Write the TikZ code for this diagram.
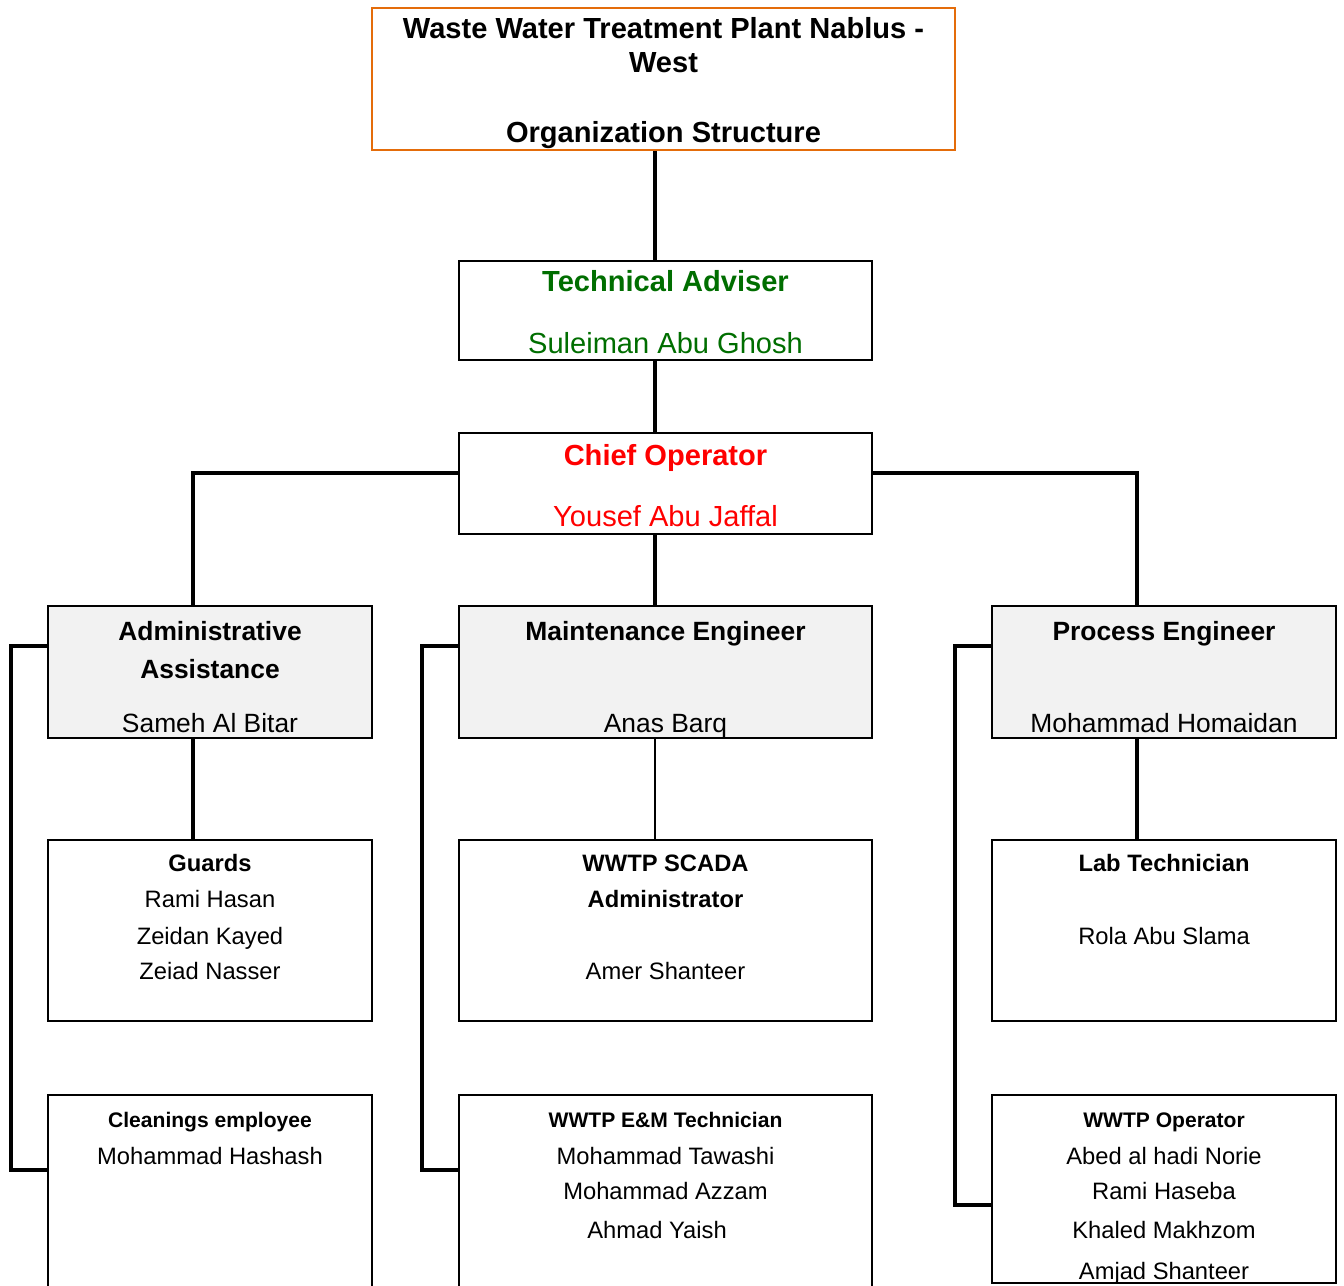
\documentclass[tikz,border=0pt]{standalone}
\usepackage{fontspec}
\setmainfont{Liberation Sans}
\usetikzlibrary{fit}
\definecolor{titleorange}{RGB}{228,108,10}
\definecolor{advgreen}{RGB}{0,110,0}
\definecolor{chiefred}{RGB}{255,0,0}
\definecolor{headgray}{RGB}{242,242,242}
\tikzset{
  box/.style={draw=black, line width=1.7pt, inner sep=0pt, fill=white},
  headbox/.style={box, fill=headgray},
  lnk/.style={draw=black, line width=2.6pt},
  hA/.style={anchor=base, font=\fontsize{21.8}{26}\selectfont\bfseries},
  nA/.style={anchor=base, font=\fontsize{21.8}{26}\selectfont},
  hB/.style={anchor=base, font=\fontsize{19.8}{24}\selectfont\bfseries},
  nB/.style={anchor=base, font=\fontsize{19.8}{24}\selectfont},
  hC/.style={anchor=base, font=\fontsize{17.8}{21}\selectfont\bfseries},
  nC/.style={anchor=base, font=\fontsize{17.8}{21}\selectfont},
  hD/.style={anchor=base, font=\fontsize{15.8}{19}\selectfont\bfseries}
}
\begin{document}
\begin{tikzpicture}[x=0.75pt,y=-0.75pt]
\clip (0,0) rectangle (1344,1285);
\fill[white] (0,0) rectangle (1344,1285);
\coordinate (spine) at (655,0);
\coordinate (lbr) at (193,473);
\coordinate (rbr) at (1137,473);
\coordinate (la) at (11,646);
\coordinate (lb) at (11,1170);
\coordinate (ma) at (422,646);
\coordinate (mb) at (422,1170);
\coordinate (pa) at (955,646);
\coordinate (pb) at (955,1205);
\node [box, draw=titleorange, fit={(372,8) (955,150)}] (title) {};
\node [box, fit={(459,261) (872,360)}] (ta) {};
\node [box, fit={(459,433) (872,534)}] (co) {};
\node [headbox, fit={(48,606) (372,738)}] (adm) {};
\node [headbox, fit={(459,606) (872,738)}] (mnt) {};
\node [headbox, fit={(992,606) (1336,738)}] (pro) {};
\node [box, fit={(48,840) (372,1021)}] (grd) {};
\node [box, fit={(459,840) (872,1021)}] (scd) {};
\node [box, fit={(992,840) (1336,1021)}] (lab) {};
\node [box, fit={(48,1095) (372,1300)}] (cln) {};
\node [box, fit={(459,1095) (872,1300)}] (emt) {};
\node [box, fit={(992,1095) (1336,1283)}] (opr) {};
\draw[lnk] (title.south -| spine) -- (ta.north -| spine);
\draw[lnk] (ta.south -| spine) -- (co.north -| spine);
\draw[lnk] (co.west |- lbr) -- (lbr) -- (adm.north -| lbr);
\draw[lnk] (co.east |- rbr) -- (rbr) -- (pro.north -| rbr);
\draw[lnk] (co.south -| spine) -- (mnt.north -| spine);
\draw[lnk] (adm.south -| lbr) -- (grd.north -| lbr);
\draw[lnk, line width=1.8pt] (mnt.south -| spine) -- (scd.north -| spine);
\draw[lnk] (pro.south -| rbr) -- (lab.north -| rbr);
\draw[lnk] (adm.west |- la) -- (la) -- (lb) -- (cln.west |- lb);
\draw[lnk] (mnt.west |- ma) -- (ma) -- (mb) -- (emt.west |- mb);
\draw[lnk] (pro.west |- pa) -- (pa) -- (pb) -- (opr.west |- pb);
\node [hA] (title1) at (663.5,38) {Waste Water Treatment Plant Nablus -};
\node [hA] (title2) at (663.5,72) {West};
\node [hA] (title3) at (663.5,142) {Organization Structure};
\node [hA, text=advgreen] (tahead) at (665.5,291) {Technical Adviser};
\node [nA, text=advgreen] (taname) at (665.5,353) {Suleiman Abu Ghosh};
\node [hA, text=chiefred] (cohead) at (665.5,465) {Chief Operator};
\node [nA, text=chiefred] (coname) at (665.5,526) {Yousef Abu Jaffal};
\node [hB] (admhead1) at (210,640) {Administrative};
\node [hB] (admhead2) at (210,678) {Assistance};
\node [nB] (admname) at (210,732) {Sameh Al Bitar};
\node [hB] (mnthead) at (665.5,640) {Maintenance Engineer};
\node [nB] (mntname) at (665.5,732) {Anas Barq};
\node [hB] (prohead) at (1164,640) {Process Engineer};
\node [nB] (proname) at (1164,732) {Mohammad Homaidan};
\node [hC] (grdhead) at (210,871) {Guards};
\node [nC] (grdname1) at (210,907) {Rami Hasan};
\node [nC] (grdname2) at (210,944) {Zeidan Kayed};
\node [nC] (grdname3) at (210,979) {Zeiad Nasser};
\node [hC] (scdhead1) at (665.5,871) {WWTP SCADA};
\node [hC] (scdhead2) at (665.5,907) {Administrator};
\node [nC] (scdname) at (665.5,979) {Amer Shanteer};
\node [hC] (labhead) at (1164,871) {Lab Technician};
\node [nC] (labname) at (1164,944) {Rola Abu Slama};
\node [hD] (clnhead) at (210,1127) {Cleanings employee};
\node [nC] (clnname) at (210,1164) {Mohammad Hashash};
\node [hD] (emthead) at (665.5,1127) {WWTP E\&M Technician};
\node [nC] (emtname1) at (665.5,1164) {Mohammad Tawashi};
\node [nC] (emtname2) at (665.5,1199) {Mohammad Azzam};
\node [nC] (emtname3) at (657,1238) {Ahmad Yaish};
\node [hD] (oprhead) at (1164,1127) {WWTP Operator};
\node [nC] (oprname1) at (1164,1164) {Abed al hadi Norie};
\node [nC] (oprname2) at (1164,1199) {Rami Haseba};
\node [nC] (oprname3) at (1164,1238) {Khaled Makhzom};
\node [nC] (oprname4) at (1164,1279) {Amjad Shanteer};
\end{tikzpicture}
\end{document}
